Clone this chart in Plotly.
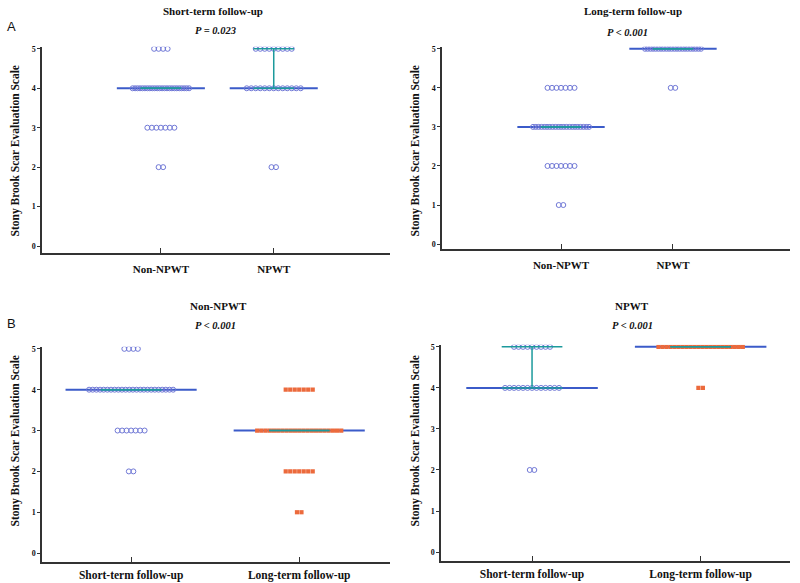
import numpy as np
import plotly.graph_objects as go

# ---- data (counts of patients at each score) ----
scores = [0, 1, 2, 3, 4, 5]
short_non_npwt = [0, 0, 2, 7, 24, 4]
short_npwt = [0, 0, 2, 0, 13, 9]
long_non_npwt = [0, 2, 7, 21, 7, 0]
long_npwt = [0, 0, 0, 0, 2, 22]

groups_a = ["Non-NPWT", "NPWT"]
groups_b = ["Short-term follow-up", "Long-term follow-up"]
titles = ["Short-term follow-up", "Long-term follow-up", "Non-NPWT", "NPWT"]
p_texts = ["P = 0.023", "P < 0.001", "P < 0.001", "P < 0.001"]
y_ticks = [0, 1, 2, 3, 4, 5]

CIRCLE = "#7078d6"
SQUARE = "#ec6a3c"
MEDIAN = "#3b5bc9"
IQR = "#1c9a9c"
AXIS = "#333333"
SERIF = "Liberation Serif"

W, H = 800, 583

def dom_x(a, b):
    return [a / W, b / W]

def dom_y(top, bottom):
    return [1 - bottom / H, 1 - top / H]

panels = [
    dict(series=[short_non_npwt, short_npwt], cats=groups_a, sym=["circle-open", "circle-open"],
         xd=dom_x(42, 390), yd=dom_y(45, 252), xr=[-0.053, 3.03], yr=[-0.18, 5.05]),
    dict(series=[long_non_npwt, long_npwt], cats=groups_a, sym=["circle-open", "circle-open"],
         xd=dom_x(442, 790), yd=dom_y(45, 248), xr=[-0.063, 3.045], yr=[-0.13, 5.05]),
    dict(series=[short_non_npwt, long_non_npwt], cats=groups_b, sym=["circle-open", "square"],
         xd=dom_x(42, 390), yd=dom_y(346, 562), xr=[0.47, 2.54], yr=[-0.22, 5.05]),
    dict(series=[short_npwt, long_npwt], cats=groups_b, sym=["circle-open", "square"],
         xd=dom_x(441, 790), yd=dom_y(344, 561), xr=[0.46, 2.53], yr=[-0.22, 5.05]),
]

fig = go.Figure()

for k, p in enumerate(panels):
    ax = "" if k == 0 else str(k + 1)
    xref, yref = "x" + ax, "y" + ax
    ppu = (p["xd"][1] - p["xd"][0]) * W / (p["xr"][1] - p["xr"][0])
    nat = 4.5 / ppu
    for j, counts in enumerate(p["series"]):
        c = j + 1
        vals = np.repeat(scores, counts)
        q1, med, q3 = np.percentile(vals, [25, 50, 75])
        # median line
        fig.add_trace(go.Scatter(x=[c - 0.39, c + 0.39], y=[med, med], mode="lines",
                                 line=dict(color=MEDIAN, width=2), xaxis=xref, yaxis=yref,
                                 showlegend=False, hoverinfo="skip"))
        # points
        xs, ys = [], []
        for s, n in zip(scores, counts):
            if n == 0:
                continue
            sp = nat if (n - 1) * nat <= 0.5 else 0.5 / (n - 1)
            for i in range(n):
                xs.append(c + (i - (n - 1) / 2) * sp)
                ys.append(s)
        sym = p["sym"][j]
        if sym == "square":
            mk = dict(symbol="square", size=4.2, color=SQUARE, line=dict(width=0))
        else:
            mk = dict(symbol="circle-open", size=5, color=CIRCLE, line=dict(width=1))
        fig.add_trace(go.Scatter(x=xs, y=ys, mode="markers", marker=mk, xaxis=xref, yaxis=yref,
                                 showlegend=False))
        # IQR lines
        fig.add_trace(go.Scatter(x=[c - 0.18, c + 0.18, None, c - 0.18, c + 0.18, None, c, c],
                                 y=[q1, q1, None, q3, q3, None, q1, q3], mode="lines",
                                 line=dict(color=IQR, width=1.5), xaxis=xref, yaxis=yref,
                                 showlegend=False, hoverinfo="skip"))

    xa = dict(domain=p["xd"], range=p["xr"], tickvals=[1, 2],
              ticktext=["<b>%s</b>" % t for t in p["cats"]],
              tickfont=dict(family=SERIF, size=11 if k < 2 else 11.5, color="#111"),
              showline=True, linecolor=AXIS, linewidth=1.5, ticks="inside", ticklen=5,
              tickcolor=AXIS, showgrid=False, zeroline=False, anchor=yref,
              ticklabelstandoff=5 if k < 2 else 1)
    ya = dict(domain=p["yd"], range=p["yr"], tickvals=y_ticks,
              tickfont=dict(family=SERIF, size=8, color="#111", weight="bold"),
              showline=True, linecolor=AXIS, linewidth=1.5, ticks="outside", ticklen=3,
              tickcolor=AXIS, showgrid=False, zeroline=False, anchor=xref)
    fig.update_layout(**{"xaxis" + ax: xa, "yaxis" + ax: ya})

def ann(x, y, text, size, family=SERIF, angle=0):
    return dict(x=x / W, y=1 - y / H, xref="paper", yref="paper", showarrow=False,
                xanchor="center", yanchor="middle", text=text, textangle=angle,
                font=dict(family=family, size=size, color="#111"))

anns = []
title_pos = [(213, 9), (633, 9), (218, 305), (632, 305)]
p_pos = [(215, 29), (627, 31), (215, 325), (632, 325)]
for k in range(4):
    anns.append(ann(*title_pos[k], "<b>%s</b>" % titles[k], 11))
    anns.append(ann(*p_pos[k], "<b><i>%s</i></b>" % p_texts[k], 10.5))
ytitle_pos = [(15, 150), (415, 150), (15, 441), (415, 441)]
for (x0, y0) in ytitle_pos:
    anns.append(ann(x0, y0, "<b>Stony Brook Scar Evaluation Scale</b>", 11.5, angle=-90))
anns.append(ann(11, 25, "A", 13, family="Liberation Sans"))
anns.append(ann(11, 323, "B", 13, family="Liberation Sans"))

fig.update_layout(width=W, height=H, margin=dict(l=0, r=0, t=0, b=0),
                  plot_bgcolor="white", paper_bgcolor="white", annotations=anns,
                  showlegend=False)
fig.write_html("out.html", config={"displayModeBar": False},
               post_script="document.body.style.margin='0';document.body.style.overflow='hidden';")
